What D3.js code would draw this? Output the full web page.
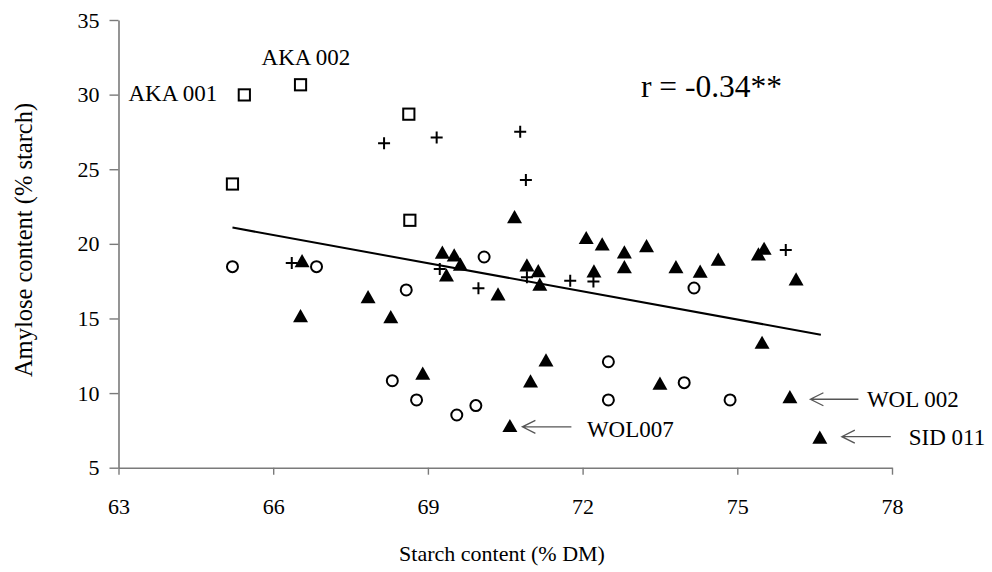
<!DOCTYPE html>
<html>
<head>
<meta charset="utf-8">
<script src="https://cdn.jsdelivr.net/npm/d3@7"></script>
<style>
  html, body { margin: 0; padding: 0; background: #fff; }
  svg { display: block; }
  svg text { font-family: "Liberation Serif", "Times New Roman", serif !important; fill: #000; }
</style>
</head>
<body>
<svg id="chart" width="992" height="572"></svg>
<script>
// ---- Data ----
const xTicks = [63, 66, 69, 72, 75, 78];
const yTicks = [5, 10, 15, 20, 25, 30, 35];

// Open squares
const squareX = [65.44, 66.53, 65.21, 68.63, 68.65];
const squareY = [29.98, 30.66, 24.01, 28.69, 21.58];

// Plus signs
const plusX = [68.15, 69.17, 70.79, 70.90, 66.36, 69.23, 69.98, 70.92, 71.76, 72.21, 75.94];
const plusY = [26.74, 27.12, 27.52, 24.28, 18.72, 18.32, 17.02, 17.76, 17.53, 17.47, 19.59];

// Open circles
const circleX = [65.21, 66.84, 68.58, 68.31, 68.78, 70.09, 74.16, 72.50, 73.97, 72.50, 74.86, 69.93, 69.56];
const circleY = [18.47, 18.47, 16.91, 10.83, 9.54, 19.12, 17.04, 12.10, 10.70, 9.54, 9.54, 9.16, 8.53];

// Filled triangles
const triX = [66.56, 67.84, 66.53, 68.28, 70.68, 69.28, 69.51, 69.63, 69.36, 70.36, 70.92, 71.14, 71.17,
              72.22, 72.07, 72.38, 72.81, 72.81, 73.24, 73.81, 74.28, 74.63, 68.90, 71.29, 70.99, 73.50,
              70.59, 75.41, 75.52, 76.14, 75.48, 76.02, 76.60];
const triY = [18.87, 16.46, 15.19, 15.12, 21.82, 19.44, 19.26, 18.63, 17.92, 16.64, 18.59, 18.20, 17.29,
              18.18, 20.42, 19.99, 19.46, 18.47, 19.88, 18.47, 18.16, 18.97, 11.33, 12.22, 10.81, 10.66,
              7.82, 19.32, 19.70, 17.65, 13.40, 9.76, 7.04];

// Regression line endpoints
const trendX = [65.21, 76.62];
const trendY = [21.09, 13.91];

// Labelled points
const labelNames = ["AKA 001", "AKA 002", "WOL007", "WOL 002", "SID 011"];
const labelX = [65.44, 66.53, 70.59, 76.02, 76.60];
const labelY = [29.98, 30.66, 7.82, 9.76, 7.04];

const corrText = "r = -0.34**";
const xTitle = "Starch content (% DM)";
const yTitle = "Amylose content (% starch)";

// ---- Drawing ----
const FONT = '"Liberation Serif", "Times New Roman", serif';
const svg = d3.select("#chart");
const x = d3.scaleLinear().domain([63, 78]).range([118.5, 892]);
const y = d3.scaleLinear().domain([5, 35]).range([467.7, 20]);

const axisColor = "#7a7a7a";

// X axis
const gx = svg.append("g").attr("transform", `translate(0,${y(5)})`)
  .call(d3.axisBottom(x).tickValues(xTicks).tickSize(7).tickSizeOuter(0).tickPadding(24).tickFormat(d3.format("d")));

// Y axis
const gy = svg.append("g").attr("transform", `translate(${x(63)},0)`)
  .call(d3.axisLeft(y).tickValues(yTicks).tickSize(9).tickSizeOuter(0).tickPadding(10).tickFormat(d3.format("d")));

[gx, gy].forEach(g => {
  g.attr("font-family", FONT).attr("font-size", 22);
  g.selectAll("text").attr("font-family", FONT).style("font-family", FONT).style("font-size", "22px").attr("fill", "#000");
  g.select(".domain").attr("stroke", axisColor).attr("stroke-width", 1.6);
  g.selectAll(".tick line").attr("stroke", axisColor).attr("stroke-width", 1.4);
});

function txt(sel, size) {
  return sel.attr("font-family", FONT).style("font-family", FONT).style("font-size", size + "px");
}

// Axis titles
txt(svg.append("text").attr("x", 502).attr("y", 561).attr("text-anchor", "middle"), 22).text(xTitle);
txt(svg.append("text").attr("transform", "translate(32,240) rotate(-90)").attr("text-anchor", "middle"), 24.5).text(yTitle);

// Regression line
svg.append("line")
  .attr("x1", x(trendX[0])).attr("y1", y(trendY[0]))
  .attr("x2", x(trendX[1])).attr("y2", y(trendY[1]))
  .attr("stroke", "#000").attr("stroke-width", 2);

const zip = (a, b) => a.map((v, i) => [v, b[i]]);

// Squares
svg.append("g").selectAll("rect").data(zip(squareX, squareY)).join("rect")
  .attr("x", d => x(d[0]) - 5.6).attr("y", d => y(d[1]) - 5.6)
  .attr("width", 11.2).attr("height", 11.2)
  .attr("fill", "#fff").attr("stroke", "#000").attr("stroke-width", 2);

// Circles
svg.append("g").selectAll("circle").data(zip(circleX, circleY)).join("circle")
  .attr("cx", d => x(d[0])).attr("cy", d => y(d[1])).attr("r", 5.5)
  .attr("fill", "#fff").attr("stroke", "#000").attr("stroke-width", 2);

// Plus
svg.append("g").selectAll("path").data(zip(plusX, plusY)).join("path")
  .attr("transform", d => `translate(${x(d[0])},${y(d[1])})`)
  .attr("d", "M-6,0H6M0,-6V6")
  .attr("fill", "none").attr("stroke", "#000").attr("stroke-width", 2);

// Triangles
svg.append("g").selectAll("path").data(zip(triX, triY)).join("path")
  .attr("transform", d => `translate(${x(d[0])},${y(d[1])})`)
  .attr("d", "M0,-6.7L7.5,6.5L-7.5,6.5Z")
  .attr("fill", "#000");

// Correlation text
txt(svg.append("text").attr("x", 641).attr("y", 97), 31.5).text(corrText);

// Point labels
const lab = labelNames.map((n, i) => ({ name: n, px: x(labelX[i]), py: y(labelY[i]) }));
// AKA 001 (left of point)
txt(svg.append("text").attr("x", lab[0].px - 27).attr("y", lab[0].py + 6).attr("text-anchor", "end"), 23).text(lab[0].name);
// AKA 002 (above point)
txt(svg.append("text").attr("x", lab[1].px - 39).attr("y", lab[1].py - 20), 23).text(lab[1].name);

// Arrow annotations: [label index, arrow start offset, arrow length, text offset, arrow dy, text dy]
const arrows = [
  [2, 12.5, 49, 77, 1.2, 11.8],
  [3, 20.5, 48, 77, 2.6, 10.6],
  [4, 22, 49, 89, -0.6, 7.7]
];
const arrowColor = "#555";
arrows.forEach(([i, off, len, toff, ady, tdy]) => {
  const p = lab[i];
  const ax = p.px + off, ay = p.py + ady;
  svg.append("path")
    .attr("d", `M${ax + len},${ay}H${ax}M${ax + 13},${ay - 6.5}L${ax},${ay}L${ax + 13},${ay + 6.5}`)
    .attr("fill", "none").attr("stroke", arrowColor).attr("stroke-width", 1.3);
  txt(svg.append("text").attr("x", p.px + toff).attr("y", p.py + tdy), 23).text(p.name);
});
</script>
</body>
</html>
